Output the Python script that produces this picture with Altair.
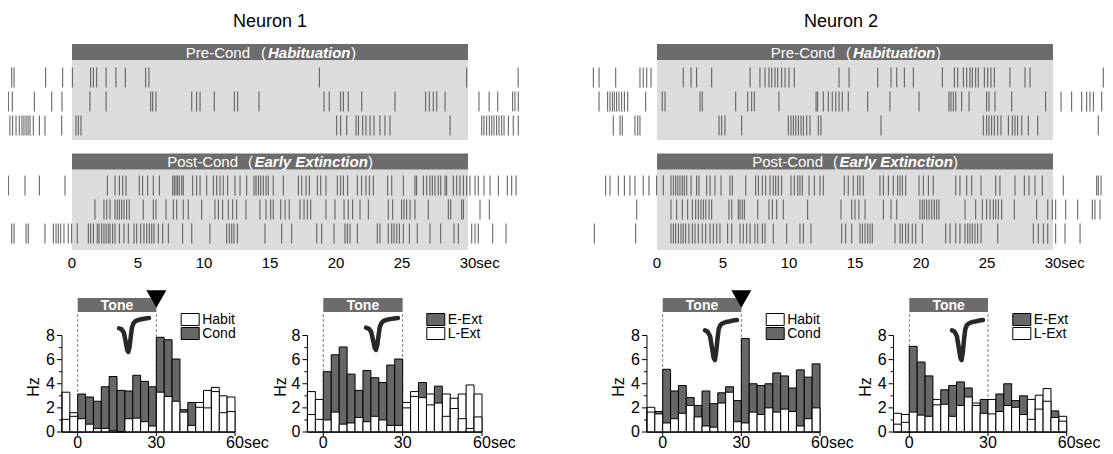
import altair as alt
import numpy as np
import pandas as pd

# ================= data =================
NEURONS = ["Neuron 1", "Neuron 2"]
RASTER_TICKS = [0, 5, 10, 15, 20, 25, 30]
CS_ON, CS_OFF = 0, 30
BIN_START = [-6, -3, 0, 3, 6, 9, 12, 15, 18, 21, 24, 27, 30, 33, 36, 39, 42, 45, 48, 51, 54, 57]
BIN_WIDTH = 3
HIST_X_TICKS = [0, 30, 60]
HIST_Y_MAJOR = [0, 2, 4, 6, 8]
HIST_Y_MINOR = [1, 3, 5, 7]

# firing rates (Hz) per 3-s bin
n1_habit = [3.3, 1.6, 1.1, 0.65, 0.3, 0.3, 0.1, 0.0, 1.1, 1.15, 0.85, 0.5, 3.3, 2.95, 2.55, 1.65, 0.55, 2.45, 3.45, 3.7, 3.0, 2.9]
n1_cond = [1.05, 1.3, 3.15, 2.9, 2.55, 3.75, 4.6, 3.45, 3.4, 4.7, 4.2, 3.75, 7.85, 7.65, 6.05, 1.85, 2.45, 2.05, 2.0, 3.35, 1.6, 1.7]
n1_eext = [1.45, 1.05, 5.0, 6.4, 7.05, 4.8, 3.45, 5.1, 4.5, 4.1, 5.55, 6.05, 2.0, 2.95, 4.1, 2.25, 3.8, 1.3, 1.95, 1.1, 0.3, 1.25]
n1_lext = [3.35, 2.7, 1.0, 1.65, 0.65, 0.75, 1.2, 0.85, 1.3, 1.0, 0.55, 0.55, 2.45, 3.35, 2.85, 3.15, 2.4, 3.15, 2.8, 3.15, 3.9, 3.15]
n2_habit = [2.05, 1.5, 0.75, 1.1, 1.55, 2.2, 1.25, 0.5, 0.4, 2.4, 3.3, 0.85, 0.75, 1.65, 1.45, 2.0, 1.65, 1.9, 1.7, 0.5, 1.1, 2.0]
n2_cond = [1.65, 1.7, 5.2, 3.4, 3.85, 2.85, 2.2, 3.4, 2.35, 3.25, 3.75, 2.6, 7.75, 4.0, 3.85, 4.0, 4.9, 4.65, 3.65, 5.15, 4.55, 5.65]
n2_eext = [0.65, 0.8, 7.1, 5.8, 4.65, 2.25, 3.5, 3.85, 4.15, 3.65, 2.2, 2.7, 1.5, 3.15, 4.0, 2.6, 3.0, 1.05, 1.9, 2.55, 1.75, 0.9]
n2_lext = [1.55, 1.45, 1.65, 1.4, 1.3, 2.7, 2.3, 1.3, 2.2, 2.9, 2.4, 1.55, 2.7, 1.7, 2.2, 2.05, 1.45, 2.7, 3.05, 3.6, 1.2, 1.3]

# spike times (s) for three example trials
n1_pre_1 = [-4.57, -4.39, -2.0, -0.71, 0.03, 1.41, 1.62, 1.87, 2.58, 3.33, 4.04, 5.58, 5.83, 18.74, 29.9, 33.8]
n1_pre_2 = [-4.82, -4.52, -2.85, -1.54, -0.76, 1.36, 2.58, 5.96, 6.11, 6.36, 9.07, 9.44, 9.7, 10.78, 12.3, 12.55, 14.17,
            19.09, 19.49, 20.35, 20.56, 20.93, 21.95, 24.47, 26.79, 27.07, 27.37, 27.63, 28.26, 30.83, 31.6, 32.25,
            33.38, 33.56, 33.81]
n1_pre_3 = [-4.9, -4.7, -4.5, -4.24, -3.99, -3.79, -3.64, -3.48, -3.33, -3.18, -2.93, -2.47, -2.05, -0.78, 0.3, 0.48,
            0.68, 20.05, 20.35, 20.81, 21.52, 21.7, 22.02, 22.27, 22.58, 22.88, 23.33, 23.71, 24.09, 28.64, 31.04,
            31.21, 31.41, 31.62, 31.8, 31.97, 32.17, 32.35, 32.55, 32.73, 33.06, 33.43, 33.81]
n1_post_1 = [-4.82, -3.56, -2.47, -0.53, 2.68, 3.26, 3.59, 3.84, 4.09, 5.1, 5.35, 5.73, 6.16, 6.62, 7.63, 7.75, 7.88,
             8.0, 8.13, 8.31, 8.43, 9.14, 9.44, 9.7, 10.2, 10.71, 10.96, 11.21, 11.46, 11.79, 12.35, 12.73, 13.23,
             13.79, 13.94, 14.12, 14.29, 14.49, 14.7, 14.87, 15.25, 16.01, 17.15, 17.4, 17.73, 17.98, 18.59, 18.84,
             19.24, 20.1, 20.35, 20.56, 20.88, 21.62, 21.94, 22.27, 22.53, 22.83, 23.91, 24.22, 25.1, 25.98, 26.11,
             26.62, 26.87, 27.12, 27.3, 27.5, 27.75, 27.93, 28.26, 28.38, 28.89, 29.14, 29.39, 29.65, 29.9, 30.15,
             30.53, 30.78, 31.21, 31.67, 32.3, 32.98, 33.31, 33.64]
n1_post_2 = [1.74, 2.42, 2.63, 2.88, 3.26, 3.43, 3.59, 3.76, 3.94, 4.14, 4.34, 5.4, 6.16, 6.36, 7.12, 7.68, 7.93, 8.43,
             8.81, 9.82, 10.83, 11.09, 11.41, 11.84, 12.17, 12.47, 13.18, 14.24, 14.7, 15.05, 15.25, 15.81, 16.14,
             16.46, 17.27, 17.58, 17.83, 18.08, 19.24, 19.92, 20.61, 20.93, 21.26, 21.82, 22.45, 23.96, 24.29, 24.97,
             25.15, 25.35, 25.61, 25.98, 26.99, 28.51, 28.69, 29.52, 29.65, 30.91, 31.62]
n1_post_3 = [-4.57, -4.39, -3.48, -3.31, -2.05, -1.41, -1.21, -1.04, -0.86, -0.61, -0.28, -0.03, 0.4, 1.24, 1.41, 1.62,
             1.92, 2.05, 2.25, 2.42, 2.58, 2.75, 2.88, 3.08, 3.26, 3.59, 3.94, 4.27, 4.7, 4.9, 5.2, 5.45, 5.66, 5.86,
             6.04, 6.21, 6.54, 6.87, 7.3, 8.38, 9.07, 10.45, 11.72, 11.92, 12.1, 12.27, 12.53, 14.62, 15.88, 16.64,
             18.54, 18.91, 19.85, 20.68, 20.86, 21.06, 21.62, 23.13, 23.33, 23.96, 24.22, 24.39, 24.6, 24.8, 25.1,
             25.56, 26.16, 27.12, 27.93, 28.94, 29.27, 30.28, 30.53, 30.78, 31.87, 32.88]
n2_pre_1 = [-4.82, -4.39, -3.13, -1.29, -1.04, -0.78, -0.45, 1.99, 2.58, 3.0, 4.14, 7.05, 7.8, 8.18, 8.48, 8.69, 8.94,
            9.14, 9.44, 9.7, 10.0, 10.4, 13.79, 14.55, 16.72, 17.73, 18.16, 18.74, 19.42, 21.62, 22.53, 22.78, 23.21,
            23.46, 23.71, 23.89, 24.14, 24.34, 24.8, 25.05, 25.3, 25.56, 26.74, 27.88, 28.26, 33.81]
n2_pre_2 = [-4.39, -3.74, -3.56, -3.38, -3.23, -3.06, -2.88, -2.68, -2.47, -2.22, -0.86, 0.4, 0.61, 3.26, 3.43, 5.96,
            6.87, 7.17, 7.37, 9.24, 12.05, 12.17, 12.6, 12.98, 13.28, 13.54, 13.79, 14.04, 14.49, 15.96, 17.65, 19.85,
            22.12, 22.27, 22.45, 22.63, 23.08, 23.64, 24.97, 25.15, 25.61, 26.87, 29.44, 30.61, 31.41, 32.17, 32.55,
            32.8, 33.06, 33.69]
n2_pre_3 = [-3.31, -2.8, -2.63, -1.67, -1.46, -1.29, 4.7, 4.9, 5.15, 6.41, 9.95, 10.15, 10.33, 10.51, 10.71, 10.91,
            11.09, 11.34, 11.59, 12.22, 12.42, 16.97, 24.72, 24.97, 25.15, 25.35, 25.56, 25.81, 26.06, 26.62, 26.92,
            27.12, 27.32, 27.63, 28.13, 28.84, 33.43]
n2_post_1 = [-3.89, -3.56, -2.93, -2.47, -2.05, -1.67, -1.04, -0.61, -0.03, 0.48, 1.06, 1.24, 1.41, 1.57, 1.74, 1.92,
             2.07, 2.25, 2.58, 3.0, 3.18, 3.76, 4.02, 4.39, 4.85, 5.53, 5.71, 6.72, 7.47, 7.68, 7.98, 8.23, 8.56, 8.81,
             8.99, 9.19, 9.44, 10.15, 10.4, 10.66, 10.83, 11.01, 11.52, 11.92, 12.35, 12.6, 14.19, 14.49, 14.87, 15.2,
             15.38, 15.63, 16.89, 17.15, 17.53, 17.9, 18.23, 18.41, 18.59, 18.84, 19.85, 20.18, 20.56, 20.93, 22.63,
             22.95, 23.46, 23.84, 24.55, 25.66, 25.98, 27.12, 27.83, 28.18, 28.64, 29.19, 30.78, 33.31, 33.43, 33.64]
n2_post_2 = [-1.54, 1.06, 1.49, 1.92, 2.32, 2.68, 2.93, 3.13, 3.33, 3.51, 3.69, 3.94, 4.14, 5.45, 5.66, 6.16, 6.29,
             6.46, 6.62, 7.63, 8.48, 8.74, 9.07, 9.57, 11.41, 13.94, 14.75, 15.0, 15.3, 15.76, 17.15, 17.73, 18.16,
             19.92, 20.1, 20.25, 20.43, 20.61, 20.81, 21.01, 21.19, 21.36, 23.33, 24.14, 24.65, 24.97, 25.23, 25.48,
             25.66, 25.86, 26.11, 27.07, 28.76, 29.6, 29.95, 30.2, 30.96, 31.87, 32.98, 33.18, 33.56]
n2_post_3 = [-4.75, -1.62, 1.06, 1.24, 1.41, 1.62, 1.82, 1.99, 2.17, 2.42, 2.68, 2.88, 3.13, 3.43, 3.69, 4.02, 4.27,
             4.52, 4.77, 5.35, 5.66, 6.29, 6.54, 6.79, 7.05, 7.42, 7.63, 7.98, 8.18, 8.81, 9.82, 10.83, 11.09, 11.67,
             13.99, 14.29, 14.75, 15.38, 15.56, 15.76, 15.96, 16.14, 16.31, 18.03, 18.41, 18.59, 18.84, 19.04, 19.34,
             19.6, 20.1, 21.87, 22.2, 22.63, 22.95, 23.33, 23.54, 23.71, 23.89, 24.09, 24.29, 24.55, 25.81, 28.51,
             28.89, 29.27, 29.6, 30.2, 30.91, 32.05]

# spike waveform insets (normalised amplitude)
WAVE_T = [0.0, 0.08, 0.16, 0.22, 0.27, 0.31, 0.35, 0.39, 0.43, 0.48, 0.55, 0.65, 0.75, 0.87, 1.0]
N1_WAVE = [0.0, -0.04, -0.18, -0.55, -0.9, -1.0, -0.8, -0.38, 0.02, 0.2, 0.3, 0.35, 0.38, 0.41, 0.43]
N2_WAVE = [0.0, -0.04, -0.2, -0.6, -0.93, -1.0, -0.72, -0.28, 0.05, 0.18, 0.24, 0.28, 0.3, 0.33, 0.35]

RASTER = [
    {"pre": [n1_pre_1, n1_pre_2, n1_pre_3], "post": [n1_post_1, n1_post_2, n1_post_3]},
    {"pre": [n2_pre_1, n2_pre_2, n2_pre_3], "post": [n2_post_1, n2_post_2, n2_post_3]},
]

# ================= style / layout =================
FONT = "Liberation Sans"
DARK = "#676767"
HDR = "#6c6c6c"
BOX = "#dcdcdc"
SPIKE = "#555555"
OX = OY = 8
W, H = 1097, 446

R_X_PX = [(72, 468), (657, 1053)]            # page px of 0 s and 30 s
TITLE_X_PX = [270, 841]
R_ROWS_PX = {"pre": (65.5, 137.5), "post": (173.5, 245.5)}
HDR_PX = {"pre": (44, 60), "post": (153.5, 169.5)}
BOX_PX = {"pre": (60, 140), "post": (169.5, 250)}
HDR_TEXT = {
    "pre": [("Pre-Cond", "normal", "normal", "right", -20), ("(", "normal", "normal", "left", -9),
            ("Habituation", "bold", "italic", "left", -2), (")", "normal", "normal", "left", 81)],
    "post": [("Post-Cond", "normal", "normal", "right", -32), ("(", "normal", "normal", "left", -22),
             ("Early Extinction", "bold", "italic", "left", -15.5), (")", "normal", "normal", "left", 98)],
}

H_X_PX = [(77.7, 235.0), (323.3, 482.0), (662.7, 820.0), (909.3, 1066.7)]   # page px of 0 s and 60 s
H_Y_PX = (432.0, 335.5)                                                    # page px of 0 and 8 Hz
HZ_X_PX = [34, 281, 619, 866]
TONE_PX = (298, 312)
LEG_ROWS_PX = [(313.5, 325.5), (327.5, 339.5)]
WAVE_BOX = [(119, 149, 352, 318), (366, 398, 350, 318), (705, 737, 360, 320), (952, 983, 360, 320)]

HISTS = [
    dict(white=n1_habit, dark=n1_cond, legend=[("Habit", "white"), ("Cond", DARK)], tri=True, wave=N1_WAVE),
    dict(white=n1_lext, dark=n1_eext, legend=[("E-Ext", DARK), ("L-Ext", "white")], tri=False, wave=N1_WAVE),
    dict(white=n2_habit, dark=n2_cond, legend=[("Habit", "white"), ("Cond", DARK)], tri=True, wave=N2_WAVE),
    dict(white=n2_lext, dark=n2_eext, legend=[("E-Ext", DARK), ("L-Ext", "white")], tri=False, wave=N2_WAVE),
]


def sc(domain, p0, p1, off):
    return alt.Scale(domain=list(domain), range=[p0 - off, p1 - off], nice=False, zero=False)


def qx(f, s):
    return alt.X(f + ":Q", scale=s, axis=None)


def qy(f, s):
    return alt.Y(f + ":Q", scale=s, axis=None)


def vx(p):
    return alt.value(p - OX)


def vy(p):
    return alt.value(p - OY)


def one():
    return pd.DataFrame({"k": [0]})


layers = []

# ================= rasters =================
for n in range(2):
    x0p, x30p = R_X_PX[n]
    xs = sc((CS_ON, CS_OFF), x0p, x30p, OX)
    cx = (x0p + x30p) / 2
    blk = pd.DataFrame({
        "a": [CS_ON] * 4, "b": [CS_OFF] * 4,
        "y0": [BOX_PX["pre"][0] - OY, BOX_PX["post"][0] - OY, HDR_PX["pre"][0] - OY, HDR_PX["post"][0] - OY],
        "y1": [BOX_PX["pre"][1] - OY, BOX_PX["post"][1] - OY, HDR_PX["pre"][1] - OY, HDR_PX["post"][1] - OY],
        "fill": [BOX, BOX, HDR, HDR],
    })
    layers.append(alt.Chart(blk).mark_rect().encode(
        x=qx("a", xs), x2="b:Q",
        y=alt.Y("y0:Q", scale=None, axis=None), y2="y1:Q",
        fill=alt.Fill("fill:N", scale=None)))

    for block in ("pre", "post"):
        recs = [(t, r + 1) for r, ts in enumerate(RASTER[n][block]) for t in ts]
        df = pd.DataFrame(recs, columns=["t", "row"])
        df["lo"] = df["row"] - 0.42
        df["hi"] = df["row"] + 0.42
        ys = sc((0.5, 3.5), *R_ROWS_PX[block], OY)
        layers.append(alt.Chart(df).mark_rule(color=SPIKE, strokeWidth=1.1, opacity=0.9).encode(
            x=qx("t", xs), y=qy("lo", ys), y2="hi:Q"))

        yc = sum(HDR_PX[block]) / 2
        for txt, fw, fs, al, dx in HDR_TEXT[block]:
            layers.append(alt.Chart(one()).mark_text(
                text=txt, font=FONT, fontSize=15, fontWeight=fw, fontStyle=fs, align=al,
                baseline="middle", dx=dx, color="white").encode(x=vx(cx), y=vy(yc + 0.5)))

    tk = pd.DataFrame({"v": RASTER_TICKS, "lab": [str(v) for v in RASTER_TICKS]})
    layers.append(alt.Chart(tk).mark_text(font=FONT, fontSize=15, baseline="middle", color="black").encode(
        x=qx("v", xs), y=vy(263), text="lab:N"))
    layers.append(alt.Chart(pd.DataFrame({"v": [RASTER_TICKS[-1]]})).mark_text(
        text="sec", font=FONT, fontSize=15, baseline="middle", align="left", dx=8.3, color="black").encode(
        x=qx("v", xs), y=vy(263)))
    layers.append(alt.Chart(one()).mark_text(
        text=NEURONS[n], font=FONT, fontSize=18, baseline="middle", color="black").encode(
        x=vx(TITLE_X_PX[n]), y=vy(22)))

# ================= histograms =================
for i, h in enumerate(HISTS):
    x0p, x60p = H_X_PX[i]
    xs = sc((0, 60), x0p, x60p, OX)
    ys = sc((0, 8), H_Y_PX[0], H_Y_PX[1], OY)

    # dashed CS lines
    dl = pd.DataFrame({"v": [CS_ON, CS_OFF], "z": [0, 0]})
    layers.append(alt.Chart(dl).mark_rule(color="#808080", strokeDash=[3, 2], strokeWidth=1).encode(
        x=qx("v", xs), y=qy("z", ys), y2=vy(TONE_PX[1])))

    # bars
    df = pd.DataFrame({"s": BIN_START, "w": h["white"], "d": h["dark"]})
    df["e"] = df["s"] + BIN_WIDTH
    df["hi"] = df[["w", "d"]].max(axis=1)
    df["lo"] = df[["w", "d"]].min(axis=1)
    df["hifill"] = np.where(df["d"] > df["w"], DARK, "white")
    df["z"] = 0.0
    layers.append(alt.Chart(df).mark_rect(stroke="black", strokeWidth=1).encode(
        x=qx("s", xs), x2="e:Q", y=qy("hi", ys), y2="z:Q", fill=alt.Fill("hifill:N", scale=None)))
    layers.append(alt.Chart(df).mark_rect(stroke="black", strokeWidth=1, fill="white").encode(
        x=qx("s", xs), x2="e:Q", y=qy("lo", ys), y2="z:Q"))

    # axes
    ax = BIN_START[0]
    adf = pd.DataFrame({"a": [ax], "b": [HIST_X_TICKS[-1]], "z": [0], "t": [HIST_Y_MAJOR[-1]]})
    layers.append(alt.Chart(adf).mark_rule(color="black", strokeWidth=1).encode(
        x=qx("a", xs), x2="b:Q", y=qy("z", ys)))
    layers.append(alt.Chart(adf).mark_rule(color="black", strokeWidth=1).encode(
        x=qx("a", xs), y=qy("z", ys), y2="t:Q"))
    ymaj = pd.DataFrame({"v": HIST_Y_MAJOR, "a": ax, "lab": [str(v) for v in HIST_Y_MAJOR]})
    ymin = pd.DataFrame({"v": HIST_Y_MINOR, "a": ax})
    layers.append(alt.Chart(ymaj).mark_rule(color="black", x2Offset=-5).encode(
        x=qx("a", xs), x2="a:Q", y=qy("v", ys)))
    layers.append(alt.Chart(ymin).mark_rule(color="black", x2Offset=-3).encode(
        x=qx("a", xs), x2="a:Q", y=qy("v", ys)))
    layers.append(alt.Chart(ymaj).mark_text(font=FONT, fontSize=16, align="right", baseline="middle",
                                            dx=-7, color="black").encode(
        x=qx("a", xs), y=qy("v", ys), text="lab:N"))
    xt = pd.DataFrame({"v": HIST_X_TICKS, "z": 0, "lab": [str(v) for v in HIST_X_TICKS]})
    layers.append(alt.Chart(xt).mark_rule(color="black", y2Offset=4).encode(
        x=qx("v", xs), y=qy("z", ys), y2="z:Q"))
    layers.append(alt.Chart(xt).mark_text(font=FONT, fontSize=16, baseline="middle", dy=11,
                                          color="black").encode(
        x=qx("v", xs), y=qy("z", ys), text="lab:N"))
    layers.append(alt.Chart(xt.tail(1)).mark_text(text="sec", font=FONT, fontSize=16, baseline="middle",
                                                  align="left", dy=11, dx=8.9, color="black").encode(
        x=qx("v", xs), y=qy("z", ys)))
    layers.append(alt.Chart(one()).mark_text(text="Hz", font=FONT, fontSize=16, angle=270,
                                             baseline="middle", color="black").encode(
        x=vx(HZ_X_PX[i]), y=vy(387)))

    # tone bar
    tdf = pd.DataFrame({"a": [CS_ON], "b": [CS_OFF], "c": [(CS_ON + CS_OFF) / 2]})
    layers.append(alt.Chart(tdf).mark_rect(fill=HDR).encode(
        x=qx("a", xs), x2="b:Q", y=vy(TONE_PX[0]), y2=vy(TONE_PX[1])))
    layers.append(alt.Chart(tdf).mark_text(text="Tone", font=FONT, fontSize=14, fontWeight="bold",
                                           color="white", baseline="middle").encode(
        x=qx("c", xs), y=vy(sum(TONE_PX) / 2 + 0.5)))
    if h["tri"]:
        layers.append(alt.Chart(tdf).mark_point(shape="triangle-down", size=400, filled=True,
                                                color="black", opacity=1).encode(
            x=qx("b", xs), y=vy(299)))

    # legend
    lx = x0p + 103.5
    leg = pd.DataFrame({
        "lab": [l for l, _ in h["legend"]], "fill": [f for _, f in h["legend"]],
        "x0": [lx - OX] * 2, "x1": [lx + 18 - OX] * 2,
        "y0": [r[0] - OY for r in LEG_ROWS_PX], "y1": [r[1] - OY for r in LEG_ROWS_PX],
        "ty": [(r[0] + r[1]) / 2 - OY for r in LEG_ROWS_PX],
    })
    layers.append(alt.Chart(leg).mark_rect(stroke="black", strokeWidth=1).encode(
        x=alt.X("x0:Q", scale=None, axis=None), x2="x1:Q",
        y=alt.Y("y0:Q", scale=None, axis=None), y2="y1:Q", fill=alt.Fill("fill:N", scale=None)))
    layers.append(alt.Chart(leg).mark_text(font=FONT, fontSize=14, align="left", baseline="middle",
                                           dx=3, color="black").encode(
        x=alt.X("x1:Q", scale=None, axis=None), y=alt.Y("ty:Q", scale=None, axis=None), text="lab:N"))

    # spike waveform inset
    wx0, wx1, wyb, wyt = WAVE_BOX[i]
    wsx = sc((0, 1), wx0, wx1, OX)
    wsy = sc((-1, max(h["wave"])), wyb, wyt, OY)
    wdf = pd.DataFrame({"t": WAVE_T, "v": h["wave"]})
    layers.append(alt.Chart(wdf).mark_line(color="#111111", strokeWidth=4.5, strokeCap="round",
                                           strokeJoin="round", opacity=0.9).encode(
        x=qx("t", wsx), y=qy("v", wsy), order="t:Q"))

chart = (
    alt.layer(*layers)
    .resolve_scale(x="independent", y="independent")
    .properties(width=W, height=H, autosize=alt.AutoSizeParams(type="none"), padding=0, background="white")
    .configure_view(stroke=None)
)

chart.save("out.html", embed_options={"renderer": "svg", "actions": False})
